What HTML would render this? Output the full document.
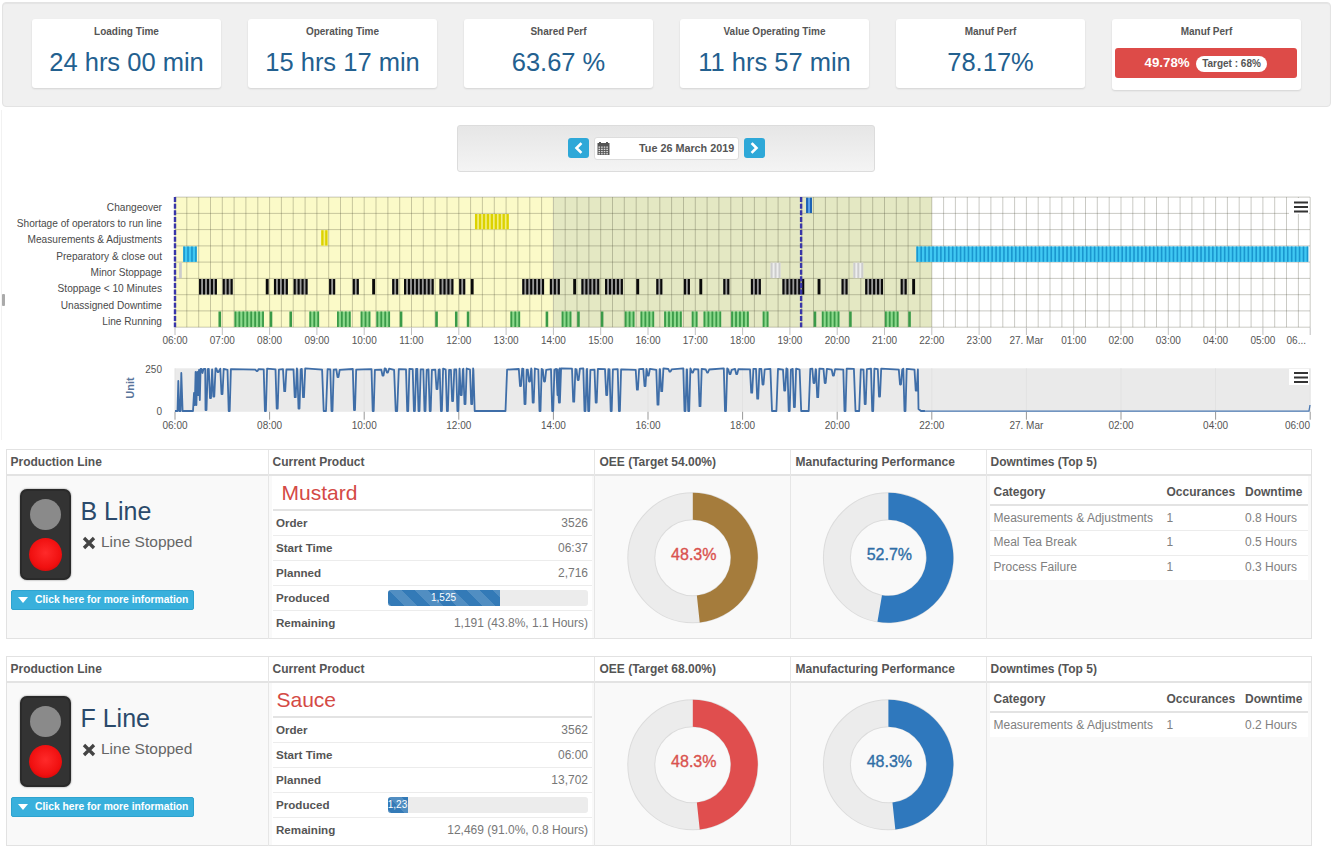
<!DOCTYPE html><html><head><meta charset="utf-8"><style>
*{margin:0;padding:0;box-sizing:border-box}
html,body{width:1334px;height:851px;overflow:hidden;background:#fff}
body{position:relative;font-family:"Liberation Sans",sans-serif;color:#333}
.a{position:absolute}
.well{background:#f0f0f0;border:1px solid #e3e3e3;border-radius:4px;box-shadow:inset 0 1px 1px rgba(0,0,0,.05)}
.card{background:#fff;border-radius:3px;box-shadow:0 1px 2px rgba(0,0,0,.12)}
.lbl{position:absolute;left:0;right:0;text-align:center;font-size:10px;font-weight:bold;color:#555;line-height:12px}
.num{position:absolute;left:0;right:0;text-align:center;font-size:25.5px;color:#23608f;line-height:28px}
.ph{font-size:12px;font-weight:bold;color:#555;line-height:14px;white-space:nowrap}
.t12{font-size:12px;line-height:14px;white-space:nowrap}
</style></head><body><div class="a well" style="left:2px;top:2px;width:1329px;height:105px"></div>
<div class="a card" style="left:32px;top:19px;width:189px;height:69px"><div class="lbl" style="top:7px">Loading Time</div><div class="num" style="top:28.8px">24 hrs 00 min</div></div>
<div class="a card" style="left:248px;top:19px;width:189px;height:69px"><div class="lbl" style="top:7px">Operating Time</div><div class="num" style="top:28.8px">15 hrs 17 min</div></div>
<div class="a card" style="left:464px;top:19px;width:189px;height:69px"><div class="lbl" style="top:7px">Shared Perf</div><div class="num" style="top:28.8px">63.67 %</div></div>
<div class="a card" style="left:680px;top:19px;width:189px;height:69px"><div class="lbl" style="top:7px">Value Operating Time</div><div class="num" style="top:28.8px">11 hrs 57 min</div></div>
<div class="a card" style="left:896px;top:19px;width:189px;height:69px"><div class="lbl" style="top:7px">Manuf Perf</div><div class="num" style="top:28.8px">78.17%</div></div>
<div class="a card" style="left:1112px;top:19px;width:189px;height:71px"><div class="lbl" style="top:7px">Manuf Perf</div><div class="a" style="left:3px;top:29px;width:182px;height:30px;background:#dd4b48;border-radius:3px"></div><div class="a" style="left:32.5px;top:35.5px;font-size:13.3px;font-weight:bold;color:#fff;line-height:15px">49.78%</div><div class="a" style="left:84px;top:37px;width:71px;height:16px;background:#fff;border-radius:8px;font-size:10px;font-weight:bold;color:#555;line-height:16px;text-align:center">Target : 68%</div></div>
<div class="a" style="left:457px;top:125px;width:418px;height:47px;border:1px solid #dcdcdc;border-radius:3px;background:linear-gradient(#e6e6e6,#f4f4f4)"></div>
<div class="a" style="left:568px;top:138px;width:21px;height:20px;background:#2ea8d8;border-radius:3px"><svg width="21" height="20" style="position:absolute;left:0;top:0"><path d="M12.5 6 L8.5 10 L12.5 14" stroke="#fff" stroke-width="2.6" fill="none" stroke-linecap="square"/></svg></div>
<div class="a" style="left:744px;top:138px;width:21px;height:20px;background:#2ea8d8;border-radius:3px"><svg width="21" height="20" style="position:absolute;left:0;top:0"><path d="M8.5 6 L12.5 10 L8.5 14" stroke="#fff" stroke-width="2.6" fill="none" stroke-linecap="square"/></svg></div>
<div class="a" style="left:594px;top:137px;width:145px;height:23px;background:#fff;border:1px solid #ddd;border-radius:3px"></div>
<svg class="a" style="left:597px;top:142px" width="13" height="13"><rect x="0.5" y="1" width="12" height="12" fill="#555"/><rect x="2" y="0" width="2" height="2" fill="#555"/><rect x="9" y="0" width="2" height="2" fill="#555"/><rect x="1.5" y="4.5" width="1.6" height="1.3" fill="#ddd"/><rect x="4.1" y="4.5" width="1.6" height="1.3" fill="#ddd"/><rect x="6.7" y="4.5" width="1.6" height="1.3" fill="#ddd"/><rect x="9.3" y="4.5" width="1.6" height="1.3" fill="#ddd"/><rect x="1.5" y="6.7" width="1.6" height="1.3" fill="#ddd"/><rect x="4.1" y="6.7" width="1.6" height="1.3" fill="#ddd"/><rect x="6.7" y="6.7" width="1.6" height="1.3" fill="#ddd"/><rect x="9.3" y="6.7" width="1.6" height="1.3" fill="#ddd"/><rect x="1.5" y="8.9" width="1.6" height="1.3" fill="#ddd"/><rect x="4.1" y="8.9" width="1.6" height="1.3" fill="#ddd"/><rect x="6.7" y="8.9" width="1.6" height="1.3" fill="#ddd"/><rect x="9.3" y="8.9" width="1.6" height="1.3" fill="#ddd"/><rect x="1.5" y="11.1" width="1.6" height="1.3" fill="#ddd"/><rect x="4.1" y="11.1" width="1.6" height="1.3" fill="#ddd"/><rect x="6.7" y="11.1" width="1.6" height="1.3" fill="#ddd"/><rect x="9.3" y="11.1" width="1.6" height="1.3" fill="#ddd"/></svg>
<div class="a" style="left:639px;top:141px;font-size:10.8px;font-weight:bold;color:#555;line-height:14px">Tue 26 March 2019</div>
<div class="a" style="left:1px;top:110px;width:1px;height:330px;background:#f2f2f2"></div>
<div class="a" style="left:2px;top:294px;width:3px;height:12px;background:#aaa;border-radius:1px"></div>
<svg class="a" style="left:0;top:0" width="1334" height="851"><rect x="175" y="197.1" width="378.4" height="130.1" fill="#fbfac8"/><rect x="553.4" y="197.1" width="378.4" height="130.1" fill="#e4e8c3"/><path d="M175 197.1V327.2M186.8 197.1V327.2M198.7 197.1V327.2M210.5 197.1V327.2M222.3 197.1V327.2M234.1 197.1V327.2M245.9 197.1V327.2M257.8 197.1V327.2M269.6 197.1V327.2M281.4 197.1V327.2M293.2 197.1V327.2M305.1 197.1V327.2M316.9 197.1V327.2M328.7 197.1V327.2M340.5 197.1V327.2M352.4 197.1V327.2M364.2 197.1V327.2M376 197.1V327.2M387.9 197.1V327.2M399.7 197.1V327.2M411.5 197.1V327.2M423.3 197.1V327.2M435.1 197.1V327.2M447 197.1V327.2M458.8 197.1V327.2M470.6 197.1V327.2M482.4 197.1V327.2M494.3 197.1V327.2M506.1 197.1V327.2M517.9 197.1V327.2M529.8 197.1V327.2M541.6 197.1V327.2M553.4 197.1V327.2M565.2 197.1V327.2M577 197.1V327.2M588.9 197.1V327.2M600.7 197.1V327.2M612.5 197.1V327.2M624.3 197.1V327.2M636.2 197.1V327.2M648 197.1V327.2M659.8 197.1V327.2M671.6 197.1V327.2M683.5 197.1V327.2M695.3 197.1V327.2M707.1 197.1V327.2M718.9 197.1V327.2M730.8 197.1V327.2M742.6 197.1V327.2M754.4 197.1V327.2M766.2 197.1V327.2M778.1 197.1V327.2M789.9 197.1V327.2M801.7 197.1V327.2M813.5 197.1V327.2M825.4 197.1V327.2M837.2 197.1V327.2M849 197.1V327.2M860.8 197.1V327.2M872.7 197.1V327.2M884.5 197.1V327.2M896.3 197.1V327.2M908.1 197.1V327.2M920 197.1V327.2M931.8 197.1V327.2M943.6 197.1V327.2M955.4 197.1V327.2M967.3 197.1V327.2M979.1 197.1V327.2M990.9 197.1V327.2M1002.8 197.1V327.2M1014.6 197.1V327.2M1026.4 197.1V327.2M1038.2 197.1V327.2M1050 197.1V327.2M1061.9 197.1V327.2M1073.7 197.1V327.2M1085.5 197.1V327.2M1097.3 197.1V327.2M1109.2 197.1V327.2M1121 197.1V327.2M1132.8 197.1V327.2M1144.7 197.1V327.2M1156.5 197.1V327.2M1168.3 197.1V327.2M1180.1 197.1V327.2M1191.9 197.1V327.2M1203.8 197.1V327.2M1215.6 197.1V327.2M1227.4 197.1V327.2M1239.2 197.1V327.2M1251.1 197.1V327.2M1262.9 197.1V327.2M1274.7 197.1V327.2M1286.5 197.1V327.2M1298.4 197.1V327.2M1310.2 197.1V327.2M175 197.1H1310M175 213.4H1310M175 229.6H1310M175 245.9H1310M175 262.1H1310M175 278.4H1310M175 294.7H1310M175 310.9H1310M175 327.2H1310" stroke="rgba(60,60,40,0.27)" stroke-width="1" fill="none"/><rect x="806.07" y="197.7" width="5.94" height="15.4" fill="#5aa0e8"/><path d="M806.07 197.7H808.07V213.1H806.07ZM810.01 197.7H812.01V213.1H810.01Z" fill="#1e63b5"/><rect x="474.97" y="214" width="33.83" height="15.4" fill="#f3ee80"/><path d="M474.97 214H477.27V229.3H474.97ZM478.91 214H481.21V229.3H478.91ZM482.85 214H485.15V229.3H482.85ZM486.79 214H489.09V229.3H486.79ZM490.73 214H493.03V229.3H490.73ZM494.67 214H496.97V229.3H494.67ZM498.62 214H500.92V229.3H498.62ZM502.56 214H504.86V229.3H502.56ZM506.50 214H508.80V229.3H506.50Z" fill="#dcd200"/><rect x="321.24" y="230.2" width="6.24" height="15.4" fill="#f3ee80"/><path d="M321.24 230.2H323.54V245.6H321.24ZM325.18 230.2H327.48V245.6H325.18Z" fill="#dcd200"/><rect x="183.28" y="246.5" width="13.43" height="15.4" fill="#40c8f2"/><path d="M183.28 246.5H184.88V261.8H183.28ZM187.22 246.5H188.82V261.8H187.22ZM191.17 246.5H192.77V261.8H191.17ZM195.11 246.5H196.71V261.8H195.11Z" fill="#1a96cf"/><rect x="916.43" y="246.5" width="391.82" height="15.4" fill="#40c8f2"/><path d="M916.43 246.5H918.03V261.8H916.43ZM920.37 246.5H921.97V261.8H920.37ZM924.32 246.5H925.92V261.8H924.32ZM928.26 246.5H929.86V261.8H928.26ZM932.20 246.5H933.80V261.8H932.20ZM936.14 246.5H937.74V261.8H936.14ZM940.08 246.5H941.68V261.8H940.08ZM944.02 246.5H945.62V261.8H944.02ZM947.97 246.5H949.57V261.8H947.97ZM951.91 246.5H953.51V261.8H951.91ZM955.85 246.5H957.45V261.8H955.85ZM959.79 246.5H961.39V261.8H959.79ZM963.73 246.5H965.33V261.8H963.73ZM967.67 246.5H969.27V261.8H967.67ZM971.62 246.5H973.22V261.8H971.62ZM975.56 246.5H977.16V261.8H975.56ZM979.50 246.5H981.10V261.8H979.50ZM983.44 246.5H985.04V261.8H983.44ZM987.38 246.5H988.98V261.8H987.38ZM991.32 246.5H992.92V261.8H991.32ZM995.27 246.5H996.87V261.8H995.27ZM999.21 246.5H1000.81V261.8H999.21ZM1003.15 246.5H1004.75V261.8H1003.15ZM1007.09 246.5H1008.69V261.8H1007.09ZM1011.03 246.5H1012.63V261.8H1011.03ZM1014.97 246.5H1016.57V261.8H1014.97ZM1018.92 246.5H1020.52V261.8H1018.92ZM1022.86 246.5H1024.46V261.8H1022.86ZM1026.80 246.5H1028.40V261.8H1026.80ZM1030.74 246.5H1032.34V261.8H1030.74ZM1034.68 246.5H1036.28V261.8H1034.68ZM1038.62 246.5H1040.22V261.8H1038.62ZM1042.57 246.5H1044.17V261.8H1042.57ZM1046.51 246.5H1048.11V261.8H1046.51ZM1050.45 246.5H1052.05V261.8H1050.45ZM1054.39 246.5H1055.99V261.8H1054.39ZM1058.33 246.5H1059.93V261.8H1058.33ZM1062.28 246.5H1063.88V261.8H1062.28ZM1066.22 246.5H1067.82V261.8H1066.22ZM1070.16 246.5H1071.76V261.8H1070.16ZM1074.10 246.5H1075.70V261.8H1074.10ZM1078.04 246.5H1079.64V261.8H1078.04ZM1081.98 246.5H1083.58V261.8H1081.98ZM1085.93 246.5H1087.53V261.8H1085.93ZM1089.87 246.5H1091.47V261.8H1089.87ZM1093.81 246.5H1095.41V261.8H1093.81ZM1097.75 246.5H1099.35V261.8H1097.75ZM1101.69 246.5H1103.29V261.8H1101.69ZM1105.63 246.5H1107.23V261.8H1105.63ZM1109.58 246.5H1111.17V261.8H1109.58ZM1113.52 246.5H1115.12V261.8H1113.52ZM1117.46 246.5H1119.06V261.8H1117.46ZM1121.40 246.5H1123.00V261.8H1121.40ZM1125.34 246.5H1126.94V261.8H1125.34ZM1129.28 246.5H1130.88V261.8H1129.28ZM1133.22 246.5H1134.82V261.8H1133.22ZM1137.17 246.5H1138.77V261.8H1137.17ZM1141.11 246.5H1142.71V261.8H1141.11ZM1145.05 246.5H1146.65V261.8H1145.05ZM1148.99 246.5H1150.59V261.8H1148.99ZM1152.93 246.5H1154.53V261.8H1152.93ZM1156.88 246.5H1158.47V261.8H1156.88ZM1160.82 246.5H1162.42V261.8H1160.82ZM1164.76 246.5H1166.36V261.8H1164.76ZM1168.70 246.5H1170.30V261.8H1168.70ZM1172.64 246.5H1174.24V261.8H1172.64ZM1176.58 246.5H1178.18V261.8H1176.58ZM1180.53 246.5H1182.12V261.8H1180.53ZM1184.47 246.5H1186.07V261.8H1184.47ZM1188.41 246.5H1190.01V261.8H1188.41ZM1192.35 246.5H1193.95V261.8H1192.35ZM1196.29 246.5H1197.89V261.8H1196.29ZM1200.23 246.5H1201.83V261.8H1200.23ZM1204.17 246.5H1205.77V261.8H1204.17ZM1208.12 246.5H1209.72V261.8H1208.12ZM1212.06 246.5H1213.66V261.8H1212.06ZM1216.00 246.5H1217.60V261.8H1216.00ZM1219.94 246.5H1221.54V261.8H1219.94ZM1223.88 246.5H1225.48V261.8H1223.88ZM1227.83 246.5H1229.42V261.8H1227.83ZM1231.77 246.5H1233.37V261.8H1231.77ZM1235.71 246.5H1237.31V261.8H1235.71ZM1239.65 246.5H1241.25V261.8H1239.65ZM1243.59 246.5H1245.19V261.8H1243.59ZM1247.53 246.5H1249.13V261.8H1247.53ZM1251.48 246.5H1253.08V261.8H1251.48ZM1255.42 246.5H1257.02V261.8H1255.42ZM1259.36 246.5H1260.96V261.8H1259.36ZM1263.30 246.5H1264.90V261.8H1263.30ZM1267.24 246.5H1268.84V261.8H1267.24ZM1271.18 246.5H1272.78V261.8H1271.18ZM1275.12 246.5H1276.72V261.8H1275.12ZM1279.07 246.5H1280.67V261.8H1279.07ZM1283.01 246.5H1284.61V261.8H1283.01ZM1286.95 246.5H1288.55V261.8H1286.95ZM1290.89 246.5H1292.49V261.8H1290.89ZM1294.83 246.5H1296.43V261.8H1294.83ZM1298.78 246.5H1300.38V261.8H1298.78ZM1302.72 246.5H1304.32V261.8H1302.72ZM1306.66 246.5H1308.26V261.8H1306.66Z" fill="#1a96cf"/><path d="M179.04 262.7H181.84V278.1H179.04Z" fill="#cccccc"/><rect x="770.59" y="262.7" width="9.88" height="15.4" fill="#eeeeee"/><path d="M770.59 262.7H772.59V278.1H770.59ZM774.53 262.7H776.53V278.1H774.53ZM778.47 262.7H780.47V278.1H778.47Z" fill="#cccccc"/><rect x="853.37" y="262.7" width="9.88" height="15.4" fill="#eeeeee"/><path d="M853.37 262.7H855.37V278.1H853.37ZM857.31 262.7H859.31V278.1H857.31ZM861.25 262.7H863.25V278.1H861.25Z" fill="#cccccc"/><rect x="199.05" y="279" width="17.87" height="15.4" fill="#9a9a9a"/><path d="M199.05 279H201.15V294.4H199.05ZM202.99 279H205.09V294.4H202.99ZM206.93 279H209.03V294.4H206.93ZM210.88 279H212.97V294.4H210.88ZM214.82 279H216.92V294.4H214.82Z" fill="#0a0a0a"/><rect x="222.70" y="279" width="9.98" height="15.4" fill="#9a9a9a"/><path d="M222.70 279H224.80V294.4H222.70ZM226.64 279H228.74V294.4H226.64ZM230.58 279H232.68V294.4H230.58Z" fill="#0a0a0a"/><path d="M265.76 279H268.66V294.4H265.76Z" fill="#0a0a0a"/><rect x="273.94" y="279" width="13.93" height="15.4" fill="#9a9a9a"/><path d="M273.94 279H276.04V294.4H273.94ZM277.88 279H279.98V294.4H277.88ZM281.82 279H283.93V294.4H281.82ZM285.77 279H287.87V294.4H285.77Z" fill="#0a0a0a"/><rect x="293.65" y="279" width="13.93" height="15.4" fill="#9a9a9a"/><path d="M293.65 279H295.75V294.4H293.65ZM297.59 279H299.69V294.4H297.59ZM301.53 279H303.63V294.4H301.53ZM305.47 279H307.57V294.4H305.47Z" fill="#0a0a0a"/><rect x="329.12" y="279" width="6.04" height="15.4" fill="#9a9a9a"/><path d="M329.12 279H331.23V294.4H329.12ZM333.07 279H335.17V294.4H333.07Z" fill="#0a0a0a"/><rect x="352.77" y="279" width="6.04" height="15.4" fill="#9a9a9a"/><path d="M352.77 279H354.88V294.4H352.77ZM356.72 279H358.82V294.4H356.72Z" fill="#0a0a0a"/><path d="M372.18 279H375.08V294.4H372.18Z" fill="#0a0a0a"/><rect x="392.19" y="279" width="6.04" height="15.4" fill="#9a9a9a"/><path d="M392.19 279H394.29V294.4H392.19ZM396.13 279H398.23V294.4H396.13Z" fill="#0a0a0a"/><rect x="404.02" y="279" width="29.69" height="15.4" fill="#9a9a9a"/><path d="M404.02 279H406.12V294.4H404.02ZM407.96 279H410.06V294.4H407.96ZM411.90 279H414.00V294.4H411.90ZM415.84 279H417.94V294.4H415.84ZM419.78 279H421.88V294.4H419.78ZM423.72 279H425.82V294.4H423.72ZM427.67 279H429.77V294.4H427.67ZM431.61 279H433.71V294.4H431.61Z" fill="#0a0a0a"/><rect x="439.49" y="279" width="13.93" height="15.4" fill="#9a9a9a"/><path d="M439.49 279H441.59V294.4H439.49ZM443.43 279H445.53V294.4H443.43ZM447.37 279H449.47V294.4H447.37ZM451.32 279H453.42V294.4H451.32Z" fill="#0a0a0a"/><rect x="459.20" y="279" width="6.04" height="15.4" fill="#9a9a9a"/><path d="M459.20 279H461.30V294.4H459.20ZM463.14 279H465.24V294.4H463.14Z" fill="#0a0a0a"/><path d="M470.72 279H473.62V294.4H470.72Z" fill="#0a0a0a"/><rect x="522.27" y="279" width="21.81" height="15.4" fill="#9a9a9a"/><path d="M522.27 279H524.37V294.4H522.27ZM526.21 279H528.31V294.4H526.21ZM530.15 279H532.25V294.4H530.15ZM534.09 279H536.19V294.4H534.09ZM538.03 279H540.13V294.4H538.03ZM541.98 279H544.08V294.4H541.98Z" fill="#0a0a0a"/><rect x="549.86" y="279" width="9.98" height="15.4" fill="#9a9a9a"/><path d="M549.86 279H551.96V294.4H549.86ZM553.80 279H555.90V294.4H553.80ZM557.74 279H559.84V294.4H557.74Z" fill="#0a0a0a"/><path d="M573.21 279H576.11V294.4H573.21Z" fill="#0a0a0a"/><rect x="581.39" y="279" width="17.87" height="15.4" fill="#9a9a9a"/><path d="M581.39 279H583.49V294.4H581.39ZM585.33 279H587.43V294.4H585.33ZM589.27 279H591.38V294.4H589.27ZM593.22 279H595.32V294.4H593.22ZM597.16 279H599.26V294.4H597.16Z" fill="#0a0a0a"/><rect x="605.04" y="279" width="17.87" height="15.4" fill="#9a9a9a"/><path d="M605.04 279H607.14V294.4H605.04ZM608.98 279H611.08V294.4H608.98ZM612.92 279H615.02V294.4H612.92ZM616.87 279H618.97V294.4H616.87ZM620.81 279H622.91V294.4H620.81Z" fill="#0a0a0a"/><path d="M636.27 279H639.17V294.4H636.27Z" fill="#0a0a0a"/><rect x="656.28" y="279" width="6.04" height="15.4" fill="#9a9a9a"/><path d="M656.28 279H658.38V294.4H656.28ZM660.23 279H662.33V294.4H660.23Z" fill="#0a0a0a"/><rect x="683.87" y="279" width="6.04" height="15.4" fill="#9a9a9a"/><path d="M683.87 279H685.97V294.4H683.87ZM687.82 279H689.92V294.4H687.82Z" fill="#0a0a0a"/><path d="M699.34 279H702.24V294.4H699.34Z" fill="#0a0a0a"/><rect x="723.29" y="279" width="6.04" height="15.4" fill="#9a9a9a"/><path d="M723.29 279H725.39V294.4H723.29ZM727.23 279H729.33V294.4H727.23Z" fill="#0a0a0a"/><rect x="750.88" y="279" width="9.98" height="15.4" fill="#9a9a9a"/><path d="M750.88 279H752.98V294.4H750.88ZM754.82 279H756.92V294.4H754.82ZM758.77 279H760.87V294.4H758.77Z" fill="#0a0a0a"/><rect x="782.42" y="279" width="21.81" height="15.4" fill="#9a9a9a"/><path d="M782.42 279H784.52V294.4H782.42ZM786.36 279H788.46V294.4H786.36ZM790.30 279H792.40V294.4H790.30ZM794.24 279H796.34V294.4H794.24ZM798.18 279H800.28V294.4H798.18ZM802.12 279H804.22V294.4H802.12Z" fill="#0a0a0a"/><path d="M817.59 279H820.49V294.4H817.59Z" fill="#0a0a0a"/><rect x="841.54" y="279" width="6.04" height="15.4" fill="#9a9a9a"/><path d="M841.54 279H843.64V294.4H841.54ZM845.48 279H847.58V294.4H845.48Z" fill="#0a0a0a"/><rect x="865.19" y="279" width="17.87" height="15.4" fill="#9a9a9a"/><path d="M865.19 279H867.29V294.4H865.19ZM869.13 279H871.23V294.4H869.13ZM873.07 279H875.17V294.4H873.07ZM877.02 279H879.12V294.4H877.02ZM880.96 279H883.06V294.4H880.96Z" fill="#0a0a0a"/><rect x="900.67" y="279" width="6.04" height="15.4" fill="#9a9a9a"/><path d="M900.67 279H902.77V294.4H900.67ZM904.61 279H906.71V294.4H904.61Z" fill="#0a0a0a"/><path d="M912.19 279H915.09V294.4H912.19Z" fill="#0a0a0a"/><path d="M218.46 311.5H221.06V326.9H218.46Z" fill="#3a9a48"/><rect x="234.53" y="311.5" width="29.39" height="15.4" fill="#8cd98c"/><path d="M234.53 311.5H236.33V326.9H234.53ZM238.47 311.5H240.27V326.9H238.47ZM242.41 311.5H244.21V326.9H242.41ZM246.35 311.5H248.15V326.9H246.35ZM250.29 311.5H252.09V326.9H250.29ZM254.23 311.5H256.03V326.9H254.23ZM258.17 311.5H259.97V326.9H258.17ZM262.12 311.5H263.92V326.9H262.12Z" fill="#3a9a48"/><path d="M269.70 311.5H272.30V326.9H269.70Z" fill="#3a9a48"/><path d="M289.41 311.5H292.01V326.9H289.41Z" fill="#3a9a48"/><rect x="309.42" y="311.5" width="9.68" height="15.4" fill="#8cd98c"/><path d="M309.42 311.5H311.22V326.9H309.42ZM313.36 311.5H315.16V326.9H313.36ZM317.30 311.5H319.10V326.9H317.30Z" fill="#3a9a48"/><rect x="337.01" y="311.5" width="13.62" height="15.4" fill="#8cd98c"/><path d="M337.01 311.5H338.81V326.9H337.01ZM340.95 311.5H342.75V326.9H340.95ZM344.89 311.5H346.69V326.9H344.89ZM348.83 311.5H350.63V326.9H348.83Z" fill="#3a9a48"/><rect x="360.66" y="311.5" width="9.68" height="15.4" fill="#8cd98c"/><path d="M360.66 311.5H362.46V326.9H360.66ZM364.60 311.5H366.40V326.9H364.60ZM368.54 311.5H370.34V326.9H368.54Z" fill="#3a9a48"/><rect x="376.42" y="311.5" width="13.63" height="15.4" fill="#8cd98c"/><path d="M376.42 311.5H378.22V326.9H376.42ZM380.37 311.5H382.17V326.9H380.37ZM384.31 311.5H386.11V326.9H384.31ZM388.25 311.5H390.05V326.9H388.25Z" fill="#3a9a48"/><path d="M399.77 311.5H402.37V326.9H399.77Z" fill="#3a9a48"/><path d="M435.25 311.5H437.85V326.9H435.25Z" fill="#3a9a48"/><path d="M454.96 311.5H457.56V326.9H454.96Z" fill="#3a9a48"/><path d="M466.78 311.5H469.38V326.9H466.78Z" fill="#3a9a48"/><rect x="510.44" y="311.5" width="9.68" height="15.4" fill="#8cd98c"/><path d="M510.44 311.5H512.24V326.9H510.44ZM514.38 311.5H516.18V326.9H514.38ZM518.32 311.5H520.12V326.9H518.32Z" fill="#3a9a48"/><path d="M545.62 311.5H548.22V326.9H545.62Z" fill="#3a9a48"/><rect x="561.68" y="311.5" width="9.68" height="15.4" fill="#8cd98c"/><path d="M561.68 311.5H563.48V326.9H561.68ZM565.62 311.5H567.42V326.9H565.62ZM569.57 311.5H571.37V326.9H569.57Z" fill="#3a9a48"/><path d="M577.15 311.5H579.75V326.9H577.15Z" fill="#3a9a48"/><path d="M600.80 311.5H603.40V326.9H600.80Z" fill="#3a9a48"/><rect x="624.75" y="311.5" width="9.68" height="15.4" fill="#8cd98c"/><path d="M624.75 311.5H626.55V326.9H624.75ZM628.69 311.5H630.49V326.9H628.69ZM632.63 311.5H634.43V326.9H632.63Z" fill="#3a9a48"/><rect x="640.52" y="311.5" width="13.62" height="15.4" fill="#8cd98c"/><path d="M640.52 311.5H642.32V326.9H640.52ZM644.46 311.5H646.26V326.9H644.46ZM648.40 311.5H650.20V326.9H648.40ZM652.34 311.5H654.14V326.9H652.34Z" fill="#3a9a48"/><rect x="664.17" y="311.5" width="17.57" height="15.4" fill="#8cd98c"/><path d="M664.17 311.5H665.97V326.9H664.17ZM668.11 311.5H669.91V326.9H668.11ZM672.05 311.5H673.85V326.9H672.05ZM675.99 311.5H677.79V326.9H675.99ZM679.93 311.5H681.73V326.9H679.93Z" fill="#3a9a48"/><rect x="691.76" y="311.5" width="5.74" height="15.4" fill="#8cd98c"/><path d="M691.76 311.5H693.56V326.9H691.76ZM695.70 311.5H697.50V326.9H695.70Z" fill="#3a9a48"/><rect x="703.58" y="311.5" width="17.57" height="15.4" fill="#8cd98c"/><path d="M703.58 311.5H705.38V326.9H703.58ZM707.52 311.5H709.32V326.9H707.52ZM711.47 311.5H713.27V326.9H711.47ZM715.41 311.5H717.21V326.9H715.41ZM719.35 311.5H721.15V326.9H719.35Z" fill="#3a9a48"/><rect x="731.17" y="311.5" width="17.57" height="15.4" fill="#8cd98c"/><path d="M731.17 311.5H732.97V326.9H731.17ZM735.12 311.5H736.92V326.9H735.12ZM739.06 311.5H740.86V326.9H739.06ZM743.00 311.5H744.80V326.9H743.00ZM746.94 311.5H748.74V326.9H746.94Z" fill="#3a9a48"/><rect x="762.71" y="311.5" width="5.74" height="15.4" fill="#8cd98c"/><path d="M762.71 311.5H764.51V326.9H762.71ZM766.65 311.5H768.45V326.9H766.65Z" fill="#3a9a48"/><path d="M813.65 311.5H816.25V326.9H813.65Z" fill="#3a9a48"/><rect x="821.83" y="311.5" width="17.57" height="15.4" fill="#8cd98c"/><path d="M821.83 311.5H823.63V326.9H821.83ZM825.77 311.5H827.57V326.9H825.77ZM829.72 311.5H831.52V326.9H829.72ZM833.66 311.5H835.46V326.9H833.66ZM837.60 311.5H839.40V326.9H837.60Z" fill="#3a9a48"/><path d="M849.12 311.5H851.72V326.9H849.12Z" fill="#3a9a48"/><rect x="884.90" y="311.5" width="13.62" height="15.4" fill="#8cd98c"/><path d="M884.90 311.5H886.70V326.9H884.90ZM888.84 311.5H890.64V326.9H888.84ZM892.78 311.5H894.58V326.9H892.78ZM896.72 311.5H898.52V326.9H896.72Z" fill="#3a9a48"/><path d="M908.25 311.5H910.85V326.9H908.25Z" fill="#3a9a48"/><path d="M175 197.1V327.2M801.1 197.1V327.2" stroke="#3936a8" stroke-width="2.4" stroke-dasharray="5,1.6" fill="none"/><path d="M175 327.2V335M222.3 327.2V335M269.6 327.2V335M316.9 327.2V335M364.2 327.2V335M411.5 327.2V335M458.8 327.2V335M506.1 327.2V335M553.4 327.2V335M600.7 327.2V335M648 327.2V335M695.3 327.2V335M742.6 327.2V335M789.9 327.2V335M837.2 327.2V335M884.5 327.2V335M931.8 327.2V335M979.1 327.2V335M1026.4 327.2V335M1073.7 327.2V335M1121 327.2V335M1168.3 327.2V335M1215.6 327.2V335M1262.9 327.2V335M1310.2 327.2V335" stroke="#c0c0c0" stroke-width="1"/><text x="175" y="343.9" text-anchor="middle" font-size="10" fill="#555">06:00</text><text x="222.3" y="343.9" text-anchor="middle" font-size="10" fill="#555">07:00</text><text x="269.6" y="343.9" text-anchor="middle" font-size="10" fill="#555">08:00</text><text x="316.9" y="343.9" text-anchor="middle" font-size="10" fill="#555">09:00</text><text x="364.2" y="343.9" text-anchor="middle" font-size="10" fill="#555">10:00</text><text x="411.5" y="343.9" text-anchor="middle" font-size="10" fill="#555">11:00</text><text x="458.8" y="343.9" text-anchor="middle" font-size="10" fill="#555">12:00</text><text x="506.1" y="343.9" text-anchor="middle" font-size="10" fill="#555">13:00</text><text x="553.4" y="343.9" text-anchor="middle" font-size="10" fill="#555">14:00</text><text x="600.7" y="343.9" text-anchor="middle" font-size="10" fill="#555">15:00</text><text x="648" y="343.9" text-anchor="middle" font-size="10" fill="#555">16:00</text><text x="695.3" y="343.9" text-anchor="middle" font-size="10" fill="#555">17:00</text><text x="742.6" y="343.9" text-anchor="middle" font-size="10" fill="#555">18:00</text><text x="789.9" y="343.9" text-anchor="middle" font-size="10" fill="#555">19:00</text><text x="837.2" y="343.9" text-anchor="middle" font-size="10" fill="#555">20:00</text><text x="884.5" y="343.9" text-anchor="middle" font-size="10" fill="#555">21:00</text><text x="931.8" y="343.9" text-anchor="middle" font-size="10" fill="#555">22:00</text><text x="979.1" y="343.9" text-anchor="middle" font-size="10" fill="#555">23:00</text><text x="1026.4" y="343.9" text-anchor="middle" font-size="10" fill="#555">27. Mar</text><text x="1073.7" y="343.9" text-anchor="middle" font-size="10" fill="#555">01:00</text><text x="1121" y="343.9" text-anchor="middle" font-size="10" fill="#555">02:00</text><text x="1168.3" y="343.9" text-anchor="middle" font-size="10" fill="#555">03:00</text><text x="1215.6" y="343.9" text-anchor="middle" font-size="10" fill="#555">04:00</text><text x="1262.9" y="343.9" text-anchor="middle" font-size="10" fill="#555">05:00</text><text x="1306" y="343.9" text-anchor="end" font-size="10" fill="#555">06...</text><text x="162" y="210.9" text-anchor="end" font-size="10.15" fill="#4a4a4a">Changeover</text><text x="162" y="227.2" text-anchor="end" font-size="10.15" fill="#4a4a4a">Shortage of operators to run line</text><text x="162" y="243.4" text-anchor="end" font-size="10.15" fill="#4a4a4a">Measurements &amp; Adjustments</text><text x="162" y="259.7" text-anchor="end" font-size="10.15" fill="#4a4a4a">Preparatory &amp; close out</text><text x="162" y="275.9" text-anchor="end" font-size="10.15" fill="#4a4a4a">Minor Stoppage</text><text x="162" y="292.2" text-anchor="end" font-size="10.15" fill="#4a4a4a">Stoppage &lt; 10 Minutes</text><text x="162" y="308.5" text-anchor="end" font-size="10.15" fill="#4a4a4a">Unassigned Downtime</text><text x="162" y="324.7" text-anchor="end" font-size="10.15" fill="#4a4a4a">Line Running</text><rect x="1289" y="198" width="20" height="16" fill="#fff"/><path d="M1294 202.5H1308M1294 207H1308M1294 211.5H1308" stroke="#333" stroke-width="2"/><rect x="175" y="368.3" width="1135" height="43.5" fill="#eaeaea"/><path d="M175 368.3V411.8M269.6 368.3V411.8M364.2 368.3V411.8M458.8 368.3V411.8M553.4 368.3V411.8M648 368.3V411.8M742.6 368.3V411.8M837.2 368.3V411.8M931.8 368.3V411.8M1026.4 368.3V411.8M1121 368.3V411.8M1215.6 368.3V411.8M1310.2 368.3V411.8" stroke="#e2e2e2" stroke-width="1"/><rect x="1289" y="369" width="20" height="16" fill="#fff"/><path d="M1294 373H1308M1294 377.5H1308M1294 382H1308" stroke="#333" stroke-width="2"/><path d="M175 411 L177.5 411 L178.3 381 L179.3 411 L180.5 411 L181.3 373 L182.6 411 L193 411 L194 393 L194.8 405 L195.6 372 L196.4 405 L197.3 372 L198.2 395 L199 370 L199.8 400 L200.6 369 L201.5 369 L202.5 373 L203.5 369 L204.3 368.8 L205.2 369 L205.5 410 L206.5 410 L207.7 369.2 L208.8 369 L210 398 L211 398 L212.1 369.3 L212.2 369.3 L213.3 396.5 L214.3 396.5 L215.5 368.5 L216.3 368.4 L217.5 372 L218.5 372 L219.7 369.7 L220.3 368.8 L221.5 394 L222.5 394 L223.7 368.8 L227.5 369.9 L228.7 411 L229.7 411 L230.9 369.1 L255.3 369.7 L256.5 371 L257.5 371 L258.7 369.1 L263.7 369.4 L264.9 411 L265.9 411 L267.1 368.6 L275.5 369.4 L276.7 408.5 L277.7 408.5 L278.9 369.7 L283 369.2 L284.2 391.2 L285.2 391.2 L286.4 369.5 L293.5 369.4 L294.7 397.2 L295.7 397.2 L296.9 368.5 L297.3 369.5 L298.5 408.5 L299.5 408.5 L300.7 369.3 L301.8 368.9 L303 397.2 L304 397.2 L305.2 368.4 L322.1 369.7 L323.7 411 L326 411 L327.6 369.1 L330.3 369.5 L331.5 411 L332.5 411 L333.7 369.7 L336.3 369.5 L337.5 377 L338.5 377 L339.7 369.8 L352.8 369 L354 410 L355 410 L356.2 369.6 L371.5 369.1 L372.7 411 L373.7 411 L374.9 369.8 L381.3 369.7 L382.5 375.5 L383.5 375.5 L384.7 368.5 L385.7 368.6 L386.9 372.5 L387.9 372.5 L389.1 368.7 L394.1 369.8 L395.7 411 L397.2 411 L398.8 369.1 L406 369.3 L407.2 411 L408.2 411 L409.4 368.9 L412.7 369.2 L413.9 411 L414.9 411 L416.1 369 L417.3 368.9 L418.5 411 L419.5 411 L420.7 369.3 L423.3 369.3 L424.5 411 L425.5 411 L426.7 369.8 L428.5 369.4 L429.7 411 L430.7 411 L431.9 369.8 L435.3 369.7 L436.5 389 L437.5 389 L438.7 369.9 L439.7 369.4 L440.9 411 L441.9 411 L443.1 368.6 L445.7 369.7 L446.9 411 L447.9 411 L449.1 369.8 L450.9 369.8 L452.1 401 L453.1 401 L454.3 369.3 L456.2 369.5 L457.4 411 L458.4 411 L459.5 369.6 L459.6 368.7 L460.7 395 L461.7 395 L462.9 369.3 L463.3 368.8 L464.5 404 L465.5 404 L466.7 368.5 L470 369.7 L471.2 404 L472.2 404 L473.1 368.5 L473.4 369.9 L474.7 411 L505.5 411 L507.1 369.6 L518.8 369 L520 386 L521 386 L522.2 368.6 L523.3 368.8 L524.5 404 L525.5 404 L526.7 369.6 L527.8 369.7 L529 381.5 L530 381.5 L531.2 368.5 L531.5 369.3 L532.7 402.5 L533.7 402.5 L534.9 368.5 L538.3 369.5 L539.5 411 L540.5 411 L541.7 368.9 L542.8 369.7 L544 381.5 L545 381.5 L546.2 369.9 L551 369.2 L552.2 411 L553.2 411 L554.4 369.9 L556.3 368.9 L557.5 395 L557.7 369.3 L558.5 395 L558.9 402.5 L559.7 368.5 L559.9 402.5 L561.1 368.4 L572 368.7 L573.2 401.7 L574.2 401.7 L575.4 369 L576.5 369.3 L577.7 380 L578.7 380 L579.9 368.6 L583.3 368.5 L584.5 411 L585.5 411 L586.7 369.7 L587 368.9 L588.2 411 L589.2 411 L590.4 369.8 L594.5 369.7 L595.7 402.5 L596.7 402.5 L597.9 369 L605 369.1 L606.2 395 L607.2 395 L608.4 369.2 L609.5 369.4 L610.7 411 L611.7 411 L612.9 369.3 L617.7 369.2 L618.9 411 L619.9 411 L621.1 369.3 L635.7 369.8 L636.9 389.7 L637.9 389.7 L639.1 369.2 L643.3 369 L644.5 386 L645.5 386 L646.5 368.8 L646.7 369.5 L647.7 375.5 L648.7 375.5 L649.9 368.9 L656.3 369.9 L657.5 404.7 L658.5 404.7 L659.7 369.2 L660 369.2 L661.2 391.2 L662.2 391.2 L663.4 368.4 L668.3 369 L669.5 371.7 L670.5 371.7 L671.7 369.3 L683.3 368.4 L684.5 411 L685.5 411 L686.7 369.3 L687 369.3 L688.2 411 L689.2 411 L690.4 368.5 L690.8 369.3 L692 372.5 L693 372.5 L694.2 369.1 L698.3 369.4 L699.5 406.2 L700.5 406.2 L701.7 368.9 L705.8 369.5 L707 372.5 L708 372.5 L709.2 369.5 L723.8 368.4 L725 411 L726 411 L727.2 368.5 L728.3 369.4 L729.5 374 L730.5 374 L731.7 369.8 L735 368.8 L736.2 374 L737.2 374 L738.4 369.1 L750 369.3 L751.2 392.7 L752.2 392.7 L753.4 368.9 L756 368.9 L757.2 398.7 L758.2 398.7 L759.4 368.9 L761.3 369 L762.5 384.5 L763.5 384.5 L764.7 369.3 L770.4 368.9 L772 411 L776.4 411 L778 369 L783 369.6 L784.2 390.5 L785.2 390.5 L786.4 368.4 L787.5 369.3 L788.7 411 L789.7 411 L790.9 369.5 L792.7 368.9 L793.9 407 L794.9 407 L796.1 368.7 L799.6 369.6 L801.2 411 L808.7 411 L810.3 368.8 L812.3 368.7 L813.5 383 L814.5 383 L815.7 369.1 L816 369.4 L817.2 397.2 L818.2 397.2 L819.4 368.6 L823.5 368.9 L824.7 383 L825.7 383 L826.9 368.9 L831.7 369.7 L832.9 375.5 L833.9 375.5 L835.1 369.1 L843.3 369.7 L844.5 411 L845.5 411 L846.7 368.7 L853.9 368.9 L855.5 411 L859.2 411 L860.8 369.4 L863.5 369.7 L864.7 404 L865.7 404 L866.9 369.1 L871 368.7 L872.2 411 L873.2 411 L874.4 368.6 L877.8 369.2 L879 396.5 L880 396.5 L881.2 368.7 L898.8 369.6 L900 384.5 L901 384.5 L902.2 369.7 L903.3 368.7 L904.5 411 L905.5 411 L906.7 368.8 L914.5 369.6 L915.7 390.5 L916.7 390.5 L917.9 369.4 L918.5 409 L921 411 L925 411" stroke="#3f6ea8" stroke-width="1.8" fill="none" stroke-linejoin="round"/><path d="M924 411.2H1309L1310 405" stroke="#4a78b2" stroke-width="1.3" fill="none"/><text x="175" y="428.7" text-anchor="middle" font-size="10" fill="#555">06:00</text><text x="269.6" y="428.7" text-anchor="middle" font-size="10" fill="#555">08:00</text><text x="364.2" y="428.7" text-anchor="middle" font-size="10" fill="#555">10:00</text><text x="458.8" y="428.7" text-anchor="middle" font-size="10" fill="#555">12:00</text><text x="553.4" y="428.7" text-anchor="middle" font-size="10" fill="#555">14:00</text><text x="648" y="428.7" text-anchor="middle" font-size="10" fill="#555">16:00</text><text x="742.6" y="428.7" text-anchor="middle" font-size="10" fill="#555">18:00</text><text x="837.2" y="428.7" text-anchor="middle" font-size="10" fill="#555">20:00</text><text x="931.8" y="428.7" text-anchor="middle" font-size="10" fill="#555">22:00</text><text x="1026.4" y="428.7" text-anchor="middle" font-size="10" fill="#555">27. Mar</text><text x="1121" y="428.7" text-anchor="middle" font-size="10" fill="#555">02:00</text><text x="1215.6" y="428.7" text-anchor="middle" font-size="10" fill="#555">04:00</text><text x="1310" y="428.7" text-anchor="end" font-size="10" fill="#555">06:00</text><path d="M175 411.8V419.7M269.6 411.8V419.7M364.2 411.8V419.7M458.8 411.8V419.7M553.4 411.8V419.7M648 411.8V419.7M742.6 411.8V419.7M837.2 411.8V419.7M931.8 411.8V419.7M1026.4 411.8V419.7M1121 411.8V419.7M1215.6 411.8V419.7M1310.2 411.8V419.7" stroke="#999" stroke-width="1"/><text x="162" y="373" text-anchor="end" font-size="10" fill="#555">250</text><text x="162" y="415.2" text-anchor="end" font-size="10" fill="#555">0</text><text x="0" y="0" transform="translate(134 388) rotate(-90)" text-anchor="middle" font-size="11" font-weight="bold" fill="#58749a">Unit</text></svg>
<div class="a" style="left:6px;top:449px;width:1306px;height:190px;border:1px solid #e2e2e2;background:#f9f9f9"></div>
<div class="a" style="left:7px;top:450px;width:1304px;height:25.5px;background:#fff;border-bottom:2px solid #e3e3e3"></div>
<div class="a" style="left:267.5px;top:450px;width:1px;height:189px;background:#e6e6e6"></div>
<div class="a" style="left:594px;top:450px;width:1px;height:189px;background:#e6e6e6"></div>
<div class="a" style="left:790px;top:450px;width:1px;height:189px;background:#e6e6e6"></div>
<div class="a" style="left:986px;top:450px;width:1px;height:189px;background:#e6e6e6"></div>
<div class="a ph" style="left:10.5px;top:455px">Production Line</div>
<div class="a ph" style="left:272.5px;top:455px">Current Product</div>
<div class="a ph" style="left:599.5px;top:455px">OEE (Target 54.00%)</div>
<div class="a ph" style="left:795.5px;top:455px">Manufacturing Performance</div>
<div class="a ph" style="left:990.5px;top:455px">Downtimes (Top 5)</div>
<div class="a" style="left:20px;top:489px;width:51px;height:91px;background:#333;border:2px solid #2a2a2a;border-radius:7px;box-shadow:0 0 2px rgba(0,0,0,.5)"></div>
<div class="a" style="left:29.5px;top:499px;width:31px;height:31px;border-radius:50%;background:#8a8a8a"></div>
<div class="a" style="left:28.5px;top:538px;width:33px;height:33px;border-radius:50%;background:radial-gradient(circle at 50% 45%,#ff2a2a 0,#f01010 60%,#b00 100%)"></div>
<div class="a" style="left:80.5px;top:496.5px;font-size:25px;color:#2b4a6b;line-height:28px;white-space:nowrap">B Line</div>
<svg class="a" style="left:82px;top:535.5px" width="14" height="14"><path d="M2 2L12 12M12 2L2 12" stroke="#444" stroke-width="3.3"/></svg>
<div class="a" style="left:101px;top:533px;font-size:15.5px;color:#666;line-height:18px;white-space:nowrap">Line Stopped</div>
<div class="a" style="left:11px;top:590px;width:183px;height:20px;background:#39b0dc;border:1px solid #2ea3cf;border-radius:2px"></div>
<svg class="a" style="left:17px;top:596px" width="12" height="8"><path d="M1 1H11L6 7Z" fill="#fff"/></svg>
<div class="a" style="left:35px;top:594px;font-size:10.3px;font-weight:bold;color:#fff;line-height:12px;white-space:nowrap">Click here for more information</div>
<div class="a" style="left:272px;top:476px;width:320px;height:162px;background:#fff"></div>
<div class="a" style="left:281.5px;top:482.3px;font-size:21px;color:#d44a45;line-height:22px;white-space:nowrap">Mustard</div>
<div class="a" style="left:272.5px;top:509px;width:319px;height:2px;background:#e3e3e3"></div>
<div class="a t12" style="left:276px;top:516px;font-size:11.6px;font-weight:bold;color:#555">Order</div>
<div class="a t12" style="right:746px;top:515.5px;color:#777;text-align:right">3526</div>
<div class="a" style="left:272.5px;top:535px;width:319px;height:1px;background:#ececec"></div>
<div class="a t12" style="left:276px;top:541px;font-size:11.6px;font-weight:bold;color:#555">Start Time</div>
<div class="a t12" style="right:746px;top:540.5px;color:#777;text-align:right">06:37</div>
<div class="a" style="left:272.5px;top:560px;width:319px;height:1px;background:#ececec"></div>
<div class="a t12" style="left:276px;top:566px;font-size:11.6px;font-weight:bold;color:#555">Planned</div>
<div class="a t12" style="right:746px;top:565.5px;color:#777;text-align:right">2,716</div>
<div class="a" style="left:272.5px;top:585px;width:319px;height:1px;background:#ececec"></div>
<div class="a t12" style="left:276px;top:591px;font-size:11.6px;font-weight:bold;color:#555">Produced</div>
<div class="a" style="left:272.5px;top:610px;width:319px;height:1px;background:#ececec"></div>
<div class="a t12" style="left:276px;top:616px;font-size:11.6px;font-weight:bold;color:#555">Remaining</div>
<div class="a t12" style="right:746px;top:615.5px;color:#777;text-align:right">1,191 (43.8%, 1.1 Hours)</div>
<div class="a" style="left:387.5px;top:590px;width:200px;height:16px;background:#ececec;border-radius:3px"></div>
<div class="a" style="left:387.5px;top:590px;width:112px;height:16px;background:#337ab7;border-radius:3px 0 0 3px;background-image:linear-gradient(45deg,rgba(255,255,255,.15) 25%,transparent 25%,transparent 50%,rgba(255,255,255,.15) 50%,rgba(255,255,255,.15) 75%,transparent 75%,transparent);background-size:26px 26px;overflow:hidden;font-size:10px;color:#fff;text-align:center;line-height:16px">1,525</div>
<svg class="a" style="left:0;top:0" width="1334" height="851">
<circle cx="692.8" cy="557.8" r="51.5" fill="none" stroke="#dcdcdc" stroke-width="28"/>
<circle cx="692.8" cy="557.8" r="51.5" fill="none" stroke="#ececec" stroke-width="26"/>
<path d="M692.80 492.80A65 65 0 0 1 699.73 622.43L696.85 595.58A38 38 0 0 0 692.80 519.80Z" fill="#a57c3c"/>
<text x="693.8" y="559.8" text-anchor="middle" font-size="16" fill="#d9534f" stroke="#d9534f" stroke-width="0.35">48.3%</text>
<circle cx="888.4" cy="557.8" r="51.5" fill="none" stroke="#dcdcdc" stroke-width="28"/>
<circle cx="888.4" cy="557.8" r="51.5" fill="none" stroke="#ececec" stroke-width="26"/>
<path d="M888.40 492.80A65 65 0 1 1 877.43 621.87L881.98 595.25A38 38 0 1 0 888.40 519.80Z" fill="#2f78bd"/>
<text x="889.4" y="559.8" text-anchor="middle" font-size="16" fill="#2f6ea6" stroke="#2f6ea6" stroke-width="0.35">52.7%</text>
</svg>
<div class="a" style="left:990px;top:476px;width:318px;height:104px;background:#fff"></div>
<div class="a" style="left:990px;top:503.5px;width:318px;height:2px;background:#e3e3e3"></div>
<div class="a t12" style="left:993.5px;top:484.8px;font-weight:bold;color:#555">Category</div>
<div class="a t12" style="left:1166.5px;top:484.8px;font-weight:bold;color:#555">Occurances</div>
<div class="a t12" style="left:1245px;top:484.8px;font-weight:bold;color:#555">Downtime</div>
<div class="a t12" style="left:993.5px;top:510.5px;color:#808080">Measurements &amp; Adjustments</div>
<div class="a t12" style="left:1166.5px;top:510.5px;color:#808080">1</div>
<div class="a t12" style="left:1245px;top:510.5px;color:#808080">0.8 Hours</div>
<div class="a" style="left:990px;top:529.8px;width:318px;height:1px;background:#ececec"></div>
<div class="a t12" style="left:993.5px;top:535.3px;color:#808080">Meal Tea Break</div>
<div class="a t12" style="left:1166.5px;top:535.3px;color:#808080">1</div>
<div class="a t12" style="left:1245px;top:535.3px;color:#808080">0.5 Hours</div>
<div class="a" style="left:990px;top:554.6px;width:318px;height:1px;background:#ececec"></div>
<div class="a t12" style="left:993.5px;top:560.1px;color:#808080">Process Failure</div>
<div class="a t12" style="left:1166.5px;top:560.1px;color:#808080">1</div>
<div class="a t12" style="left:1245px;top:560.1px;color:#808080">0.3 Hours</div>
<div class="a" style="left:6px;top:656px;width:1306px;height:190px;border:1px solid #e2e2e2;background:#f9f9f9"></div>
<div class="a" style="left:7px;top:657px;width:1304px;height:25.5px;background:#fff;border-bottom:2px solid #e3e3e3"></div>
<div class="a" style="left:267.5px;top:657px;width:1px;height:189px;background:#e6e6e6"></div>
<div class="a" style="left:594px;top:657px;width:1px;height:189px;background:#e6e6e6"></div>
<div class="a" style="left:790px;top:657px;width:1px;height:189px;background:#e6e6e6"></div>
<div class="a" style="left:986px;top:657px;width:1px;height:189px;background:#e6e6e6"></div>
<div class="a ph" style="left:10.5px;top:662px">Production Line</div>
<div class="a ph" style="left:272.5px;top:662px">Current Product</div>
<div class="a ph" style="left:599.5px;top:662px">OEE (Target 68.00%)</div>
<div class="a ph" style="left:795.5px;top:662px">Manufacturing Performance</div>
<div class="a ph" style="left:990.5px;top:662px">Downtimes (Top 5)</div>
<div class="a" style="left:20px;top:696px;width:51px;height:91px;background:#333;border:2px solid #2a2a2a;border-radius:7px;box-shadow:0 0 2px rgba(0,0,0,.5)"></div>
<div class="a" style="left:29.5px;top:706px;width:31px;height:31px;border-radius:50%;background:#8a8a8a"></div>
<div class="a" style="left:28.5px;top:745px;width:33px;height:33px;border-radius:50%;background:radial-gradient(circle at 50% 45%,#ff2a2a 0,#f01010 60%,#b00 100%)"></div>
<div class="a" style="left:80.5px;top:703.5px;font-size:25px;color:#2b4a6b;line-height:28px;white-space:nowrap">F Line</div>
<svg class="a" style="left:82px;top:742.5px" width="14" height="14"><path d="M2 2L12 12M12 2L2 12" stroke="#444" stroke-width="3.3"/></svg>
<div class="a" style="left:101px;top:740px;font-size:15.5px;color:#666;line-height:18px;white-space:nowrap">Line Stopped</div>
<div class="a" style="left:11px;top:797px;width:183px;height:20px;background:#39b0dc;border:1px solid #2ea3cf;border-radius:2px"></div>
<svg class="a" style="left:17px;top:803px" width="12" height="8"><path d="M1 1H11L6 7Z" fill="#fff"/></svg>
<div class="a" style="left:35px;top:801px;font-size:10.3px;font-weight:bold;color:#fff;line-height:12px;white-space:nowrap">Click here for more information</div>
<div class="a" style="left:272px;top:683px;width:320px;height:162px;background:#fff"></div>
<div class="a" style="left:276.5px;top:689.3px;font-size:21px;color:#d44a45;line-height:22px;white-space:nowrap">Sauce</div>
<div class="a" style="left:272.5px;top:716px;width:319px;height:2px;background:#e3e3e3"></div>
<div class="a t12" style="left:276px;top:723px;font-size:11.6px;font-weight:bold;color:#555">Order</div>
<div class="a t12" style="right:746px;top:722.5px;color:#777;text-align:right">3562</div>
<div class="a" style="left:272.5px;top:742px;width:319px;height:1px;background:#ececec"></div>
<div class="a t12" style="left:276px;top:748px;font-size:11.6px;font-weight:bold;color:#555">Start Time</div>
<div class="a t12" style="right:746px;top:747.5px;color:#777;text-align:right">06:00</div>
<div class="a" style="left:272.5px;top:767px;width:319px;height:1px;background:#ececec"></div>
<div class="a t12" style="left:276px;top:773px;font-size:11.6px;font-weight:bold;color:#555">Planned</div>
<div class="a t12" style="right:746px;top:772.5px;color:#777;text-align:right">13,702</div>
<div class="a" style="left:272.5px;top:792px;width:319px;height:1px;background:#ececec"></div>
<div class="a t12" style="left:276px;top:798px;font-size:11.6px;font-weight:bold;color:#555">Produced</div>
<div class="a" style="left:272.5px;top:817px;width:319px;height:1px;background:#ececec"></div>
<div class="a t12" style="left:276px;top:823px;font-size:11.6px;font-weight:bold;color:#555">Remaining</div>
<div class="a t12" style="right:746px;top:822.5px;color:#777;text-align:right">12,469 (91.0%, 0.8 Hours)</div>
<div class="a" style="left:387.5px;top:797px;width:200px;height:16px;background:#ececec;border-radius:3px"></div>
<div class="a" style="left:387.5px;top:797px;width:20px;height:16px;background:#337ab7;border-radius:3px 0 0 3px;background-image:linear-gradient(45deg,rgba(255,255,255,.15) 25%,transparent 25%,transparent 50%,rgba(255,255,255,.15) 50%,rgba(255,255,255,.15) 75%,transparent 75%,transparent);background-size:26px 26px;overflow:hidden;font-size:10px;color:#fff;text-align:center;line-height:16px">1,23</div>
<svg class="a" style="left:0;top:0" width="1334" height="851">
<circle cx="692.8" cy="764.8" r="51.5" fill="none" stroke="#dcdcdc" stroke-width="28"/>
<circle cx="692.8" cy="764.8" r="51.5" fill="none" stroke="#ececec" stroke-width="26"/>
<path d="M692.80 699.80A65 65 0 0 1 699.73 829.43L696.85 802.58A38 38 0 0 0 692.80 726.80Z" fill="#e04e4e"/>
<text x="693.8" y="766.8" text-anchor="middle" font-size="16" fill="#d9534f" stroke="#d9534f" stroke-width="0.35">48.3%</text>
<circle cx="888.4" cy="764.8" r="51.5" fill="none" stroke="#dcdcdc" stroke-width="28"/>
<circle cx="888.4" cy="764.8" r="51.5" fill="none" stroke="#ececec" stroke-width="26"/>
<path d="M888.40 699.80A65 65 0 0 1 895.33 829.43L892.45 802.58A38 38 0 0 0 888.40 726.80Z" fill="#2f78bd"/>
<text x="889.4" y="766.8" text-anchor="middle" font-size="16" fill="#2f6ea6" stroke="#2f6ea6" stroke-width="0.35">48.3%</text>
</svg>
<div class="a" style="left:990px;top:683px;width:318px;height:54px;background:#fff"></div>
<div class="a" style="left:990px;top:710.5px;width:318px;height:2px;background:#e3e3e3"></div>
<div class="a t12" style="left:993.5px;top:691.8px;font-weight:bold;color:#555">Category</div>
<div class="a t12" style="left:1166.5px;top:691.8px;font-weight:bold;color:#555">Occurances</div>
<div class="a t12" style="left:1245px;top:691.8px;font-weight:bold;color:#555">Downtime</div>
<div class="a t12" style="left:993.5px;top:717.5px;color:#808080">Measurements &amp; Adjustments</div>
<div class="a t12" style="left:1166.5px;top:717.5px;color:#808080">1</div>
<div class="a t12" style="left:1245px;top:717.5px;color:#808080">0.2 Hours</div></body></html>
